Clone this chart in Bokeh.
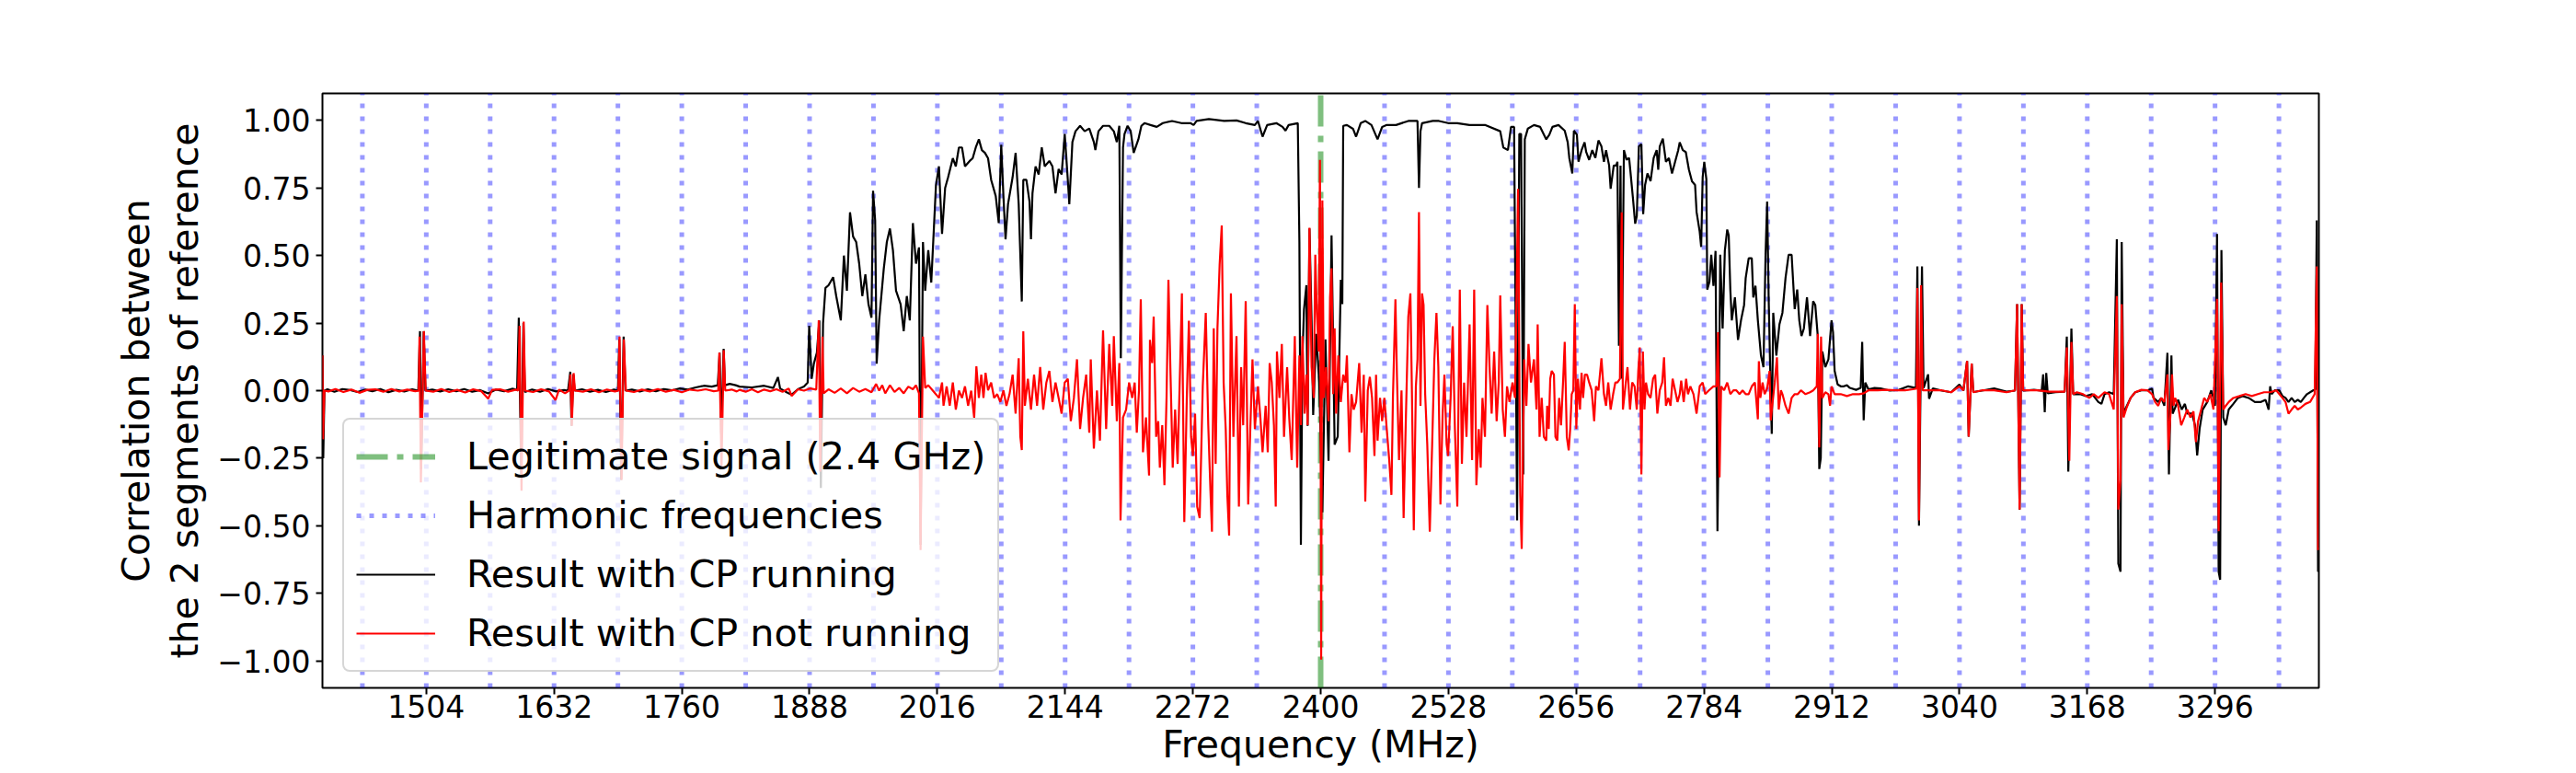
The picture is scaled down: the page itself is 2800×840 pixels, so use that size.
import numpy as np
from bokeh.plotting import figure
from bokeh.models import (Range1d, FixedTicker, CustomJSTickFormatter, Legend, LegendItem)
from bokeh.embed import file_html
from bokeh.resources import INLINE

# ---------------- data ----------------
x_min, x_max = 1400, 3400
y_min, y_max = -1.1, 1.1
x_ticks = [1504, 1632, 1760, 1888, 2016, 2144, 2272, 2400, 2528, 2656, 2784, 2912, 3040, 3168, 3296]
y_ticks = [-1.0, -0.75, -0.5, -0.25, 0.0, 0.25, 0.5, 0.75, 1.0]
x_label = "Frequency (MHz)"
y_label = "Correlation between\nthe 2 segments of reference"

legit_freq = [2400]
harmonic_freqs = [1440, 1504, 1568, 1632, 1696, 1760, 1824, 1888, 1952, 2016, 2080, 2144, 2208,
                  2272, 2336, 2464, 2528, 2592, 2656, 2720, 2784, 2848, 2912, 2976, 3040,
                  3104, 3168, 3232, 3296, 3360]

# Result with CP running (black)
black_f1 = [1400.0, 1400.8, 1402, 1405, 1412, 1420, 1428, 1435, 1443, 1450, 1458, 1466, 1474, 1482, 1490, 1496,
            1497.7, 1498.9, 1501.4, 1503.2, 1510, 1518, 1526, 1534, 1542, 1550, 1558, 1566, 1574, 1582, 1590,
            1595, 1596.7, 1599.1, 1601.3, 1602.8, 1610, 1618, 1626, 1634, 1642, 1646, 1648.3, 1649.5, 1651.4,
            1652.6, 1660, 1668, 1676, 1684, 1692, 1696, 1697.4, 1699.3, 1701.7, 1703.6, 1710, 1718, 1726, 1734,
            1742, 1750, 1758, 1766, 1774, 1782, 1790, 1796, 1797.9, 1799.5, 1801.9, 1803.2, 1808, 1814]
black_c1 = [0.13, -0.25, 0.0, 0.005, -0.004, 0.006, 0.002, -0.005, 0.004, -0.002, 0.006, -0.006, 0.003, -0.003, 0.005, 0.0,
            0.22, -0.29, 0.22, 0.0, 0.004, -0.003, 0.005, -0.002, 0.006, -0.004, 0.002, -0.01, 0.004, -0.002, 0.007,
            0.003, 0.27, -0.31, 0.25, -0.005, 0.004, -0.004, 0.006, -0.003, 0.002, 0.0, 0.07, -0.13, 0.06,
            0.0, 0.005, -0.004, 0.003, -0.005, 0.004, 0.0, 0.19, -0.33, 0.2, 0.0, 0.004, -0.003, 0.005, -0.002,
            0.006, 0.001, 0.008, 0.004, 0.012, 0.018, 0.015, 0.02, 0.14, -0.16, 0.155, 0.02, 0.025, 0.02]

black_f2 = [1817.9, 1830.2, 1842.5, 1851.7, 1856.3, 1858.5, 1864.0, 1870.1, 1876.3, 1882.4, 1886.1, 1887.6, 1890.1,
            1892.3, 1895.3, 1897.8, 1899.3, 1901.5, 1903.9, 1907.0, 1911.6, 1914.7, 1919.3, 1922.4, 1925.4, 1928.5,
            1931.6, 1934.7, 1937.7, 1940.8, 1943.9, 1947.0, 1950.0, 1951.6, 1953.7, 1955.2, 1957.7, 1962.3, 1965.4,
            1968.5, 1971.5, 1974.6, 1979.2, 1982.3, 1985.4, 1988.4, 1991.5, 1994.6, 1997.6, 1999.2, 2001.6, 2003.8,
            2006.9, 2009.9, 2014.6, 2017.6, 2020.7, 2023.8, 2026.8, 2031.5, 2034.5, 2037.6, 2040.7, 2043.7, 2048.4,
            2051.4, 2054.5, 2057.6, 2060.6, 2063.7, 2066.8, 2069.9, 2074.5, 2077.5, 2080.0, 2082.2, 2084.3, 2086.8,
            2091.4, 2094.4, 2097.5, 2100.6, 2102.1, 2105.2, 2108.3, 2109.8, 2111.3, 2114.4, 2117.5, 2120.6, 2123.6,
            2128.2, 2131.3, 2134.4, 2137.5, 2140.5, 2143.6, 2146.7, 2148.2, 2151.3, 2154.4, 2159.0, 2163.6, 2168.2,
            2172.8, 2174.3, 2177.4, 2182.0, 2188.2, 2192.8, 2195.8, 2198.3, 2199.8, 2202.0, 2203.5, 2206.6, 2209.7,
            2212.7, 2217.4, 2220.4]
black_c2 = [0.015, 0.012, 0.018, 0.01, 0.05, 0.008, -0.004, -0.015, 0.005, 0.015, 0.03, 0.24, 0.044,
            0.10, 0.14, 0.26, -0.36, 0.25, 0.38, 0.39, 0.42, 0.35, 0.26, 0.50, 0.37, 0.66,
            0.57, 0.55, 0.47, 0.35, 0.43, 0.32, 0.27, 0.74, 0.63, 0.10, 0.26, 0.45, 0.55,
            0.60, 0.52, 0.37, 0.32, 0.22, 0.35, 0.26, 0.62, 0.47, 0.53, -0.57, 0.55, 0.37,
            0.52, 0.40, 0.76, 0.83, 0.58, 0.75, 0.79, 0.86, 0.83, 0.90, 0.90, 0.83, 0.85,
            0.86, 0.90, 0.93, 0.89, 0.88, 0.86, 0.78, 0.72, 0.62, 0.91, 0.72, 0.56, 0.69,
            0.79, 0.88, 0.69, 0.33, 0.78, 0.78, 0.70, 0.56, 0.73, 0.83, 0.80, 0.90, 0.83,
            0.85, 0.83, 0.73, 0.82, 0.80, 0.95, 0.78, 0.69, 0.92, 0.96, 0.98, 0.96, 0.97,
            0.92, 0.89, 0.96, 0.98, 0.98, 0.96, 0.92, 0.98, 0.12, 0.90, 0.95, 0.98, 0.96,
            0.88, 0.93, 0.98]

black_f3 = [2223.5, 2229.6, 2235.8, 2241.9, 2251.1, 2260.4, 2269.6, 2272.7, 2275.7, 2288.0, 2303.4, 2315.7, 2324.9,
            2334.1, 2337.2, 2341.8, 2346.4, 2355.6, 2361.8, 2364.8, 2367.9, 2377.1, 2378.7, 2380.2, 2381.7, 2383.3,
            2385.7, 2386.9, 2388.8, 2390.9, 2392.5, 2395.6, 2398.6, 2401.7, 2404.8, 2407.9, 2410.9, 2414.0, 2417.1,
            2420.2, 2421.7, 2422.6, 2426.3, 2432.4, 2435.5, 2440.1, 2444.7, 2450.9, 2457.0, 2461.6, 2466.2, 2475.5,
            2487.8, 2497.0, 2498.5, 2500.0, 2501.6, 2512.3, 2518.5, 2527.7, 2536.9, 2549.2, 2564.6, 2579.9, 2583.0,
            2587.6, 2590.7, 2593.8, 2596.8, 2599.0, 2600.8, 2603.0, 2604.5, 2607.6, 2613.7, 2619.9, 2626.0]
black_c3 = [0.99, 0.983, 0.976, 0.99, 0.998, 0.99, 0.99, 0.983, 0.998, 1.005, 0.998, 1.0, 0.99,
            0.983, 0.998, 0.94, 0.983, 0.99, 0.976, 0.962, 0.983, 0.99, 0.55, -0.57, 0.12, 0.30,
            0.39, -0.13, 0.60, 0.26, -0.09, 0.21, 0.03, -0.45, 0.19, -0.26, 0.575, -0.20, -0.17,
            0.41, 0.32, 0.98, 0.983, 0.969, 0.94, 0.99, 0.998, 0.983, 0.93, 0.976, 0.983, 0.983,
            0.998, 0.998, 0.75, 0.96, 0.99, 0.998, 0.998, 0.99, 0.99, 0.983, 0.983, 0.96, 0.90,
            0.89, 0.976, 0.976, -0.48, 0.95, 0.95, -0.31, 0.93, 0.97, 0.983, 0.976, 0.93]

black_f4 = [2629.1, 2632.2, 2638.3, 2644.5, 2647.5, 2649.1, 2652.1, 2653.7, 2656.7, 2658.3, 2661.4, 2664.4, 2666.0,
            2669.0, 2672.1, 2675.2, 2678.3, 2681.3, 2683.8, 2685.9, 2689.0, 2690.5, 2693.6, 2696.1, 2697.3, 2698.8,
            2700.4, 2701.6, 2703.8, 2706.5, 2709.0, 2710.5, 2712.7, 2715.1, 2716.7, 2718.8, 2721.3, 2723.1, 2725.0,
            2727.4, 2730.5, 2733.6, 2736.6, 2738.2, 2739.7, 2742.8, 2745.9, 2748.9, 2752.0, 2755.1, 2758.2, 2759.7,
            2762.8, 2765.8, 2768.9, 2772.0, 2775.1, 2776.6, 2779.7, 2781.2, 2782.7, 2784.3, 2786.4, 2787.3, 2789.5,
            2791.3, 2793.5, 2795.6, 2797.5, 2798.7, 2800.3, 2802.7, 2804.9, 2807.3, 2808.8, 2810.4, 2811.9, 2815.0,
            2818.1, 2821.1, 2824.2, 2825.8, 2828.8, 2831.9, 2833.4, 2835.6, 2838.0, 2841.1, 2843.6, 2845.7, 2847.3,
            2848.8, 2850.3, 2851.9, 2853.4, 2856.5, 2859.6, 2862.6, 2865.7, 2868.8, 2871.8, 2874.9, 2877.4, 2879.5,
            2881.7, 2884.1, 2887.2, 2890.3, 2893.4, 2895.5, 2898.0, 2899.5, 2901.0, 2902.6, 2905.6, 2908.7, 2911.8,
            2913.3, 2914.9, 2917.9, 2921.0, 2924.1, 2927.2, 2930.2, 2936.4, 2941.0, 2942.5, 2944.0, 2945.6, 2948.7,
            2954.8, 2961.0, 2970.2, 2979.4, 2988.6, 2996.3, 2997.8, 2999.4, 3000.9, 3002.4, 3004.0, 3008.6, 3009.5,
            3013.2, 3022.4, 3031.6]
black_c4 = [0.947, 0.976, 0.983, 0.962, 0.919, 0.861, 0.804, 0.962, 0.947, 0.847, 0.89, 0.919, 0.883,
            0.854, 0.89, 0.861, 0.926, 0.904, 0.847, 0.89, 0.833, 0.747, 0.833, 0.833, 0.847, 0.166,
            0.833, 0.044, 0.89, 0.854, 0.861, 0.804, 0.718, 0.618, 0.646, 0.904, 0.912, 0.653, 0.761,
            0.804, 0.775, 0.861, 0.89, 0.818, 0.904, 0.933, 0.847, 0.861, 0.804, 0.847, 0.89, 0.919,
            0.89, 0.883, 0.818, 0.775, 0.761, 0.661, 0.589, 0.532, 0.79, 0.847, 0.782, 0.374, 0.403,
            0.503, 0.388, 0.517, -0.52, -0.17, 0.503, 0.23, 0.517, 0.596, 0.575, 0.374, 0.26, 0.345,
            0.188, 0.26, 0.317, 0.417, 0.49, 0.49, 0.345, 0.388, 0.26, 0.13, 0.087, 0.503, 0.70,
            0.345, 0.087, -0.16, 0.288, 0.13, 0.245, 0.288, 0.417, 0.503, 0.503, 0.302, 0.374, 0.26,
            0.202, 0.23, 0.345, 0.202, 0.331, 0.317, 0.202, -0.29, -0.25, 0.145, 0.087, 0.116, 0.26,
            0.216, 0.073, 0.023, 0.016, 0.016, 0.02, 0.01, 0.003, 0.01, 0.18, -0.11, 0.03, 0.005,
            0.01, 0.008, 0.0, 0.003, 0.016, 0.01, 0.46, -0.50, 0.0, 0.46, 0.01, 0.06, -0.03,
            0.008, 0.0, -0.006]

black_f5 = [3039.9, 3043.9, 3047.6, 3049.2, 3052.2, 3053.8, 3062.4, 3074.7, 3087.0, 3095.6, 3097.7, 3100.2, 3102.3,
            3103.8, 3114.6, 3122.3, 3123.8, 3125.4, 3126.9, 3128.4, 3136.1, 3145.3, 3147.5, 3149.0, 3152.1, 3153.9,
            3160.7, 3166.8, 3173.0, 3179.1, 3182.2, 3185.3, 3189.9, 3194.5, 3197.6, 3199.1, 3201.3, 3202.5, 3204.3,
            3206.8, 3211.4, 3216.0, 3222.2, 3228.3, 3232.9, 3234.4, 3239.1, 3242.1, 3245.2, 3248.3, 3249.8, 3252.3,
            3253.5, 3256.0, 3259.0, 3262.7, 3265.8, 3268.2, 3272.9, 3275.9, 3278.1, 3280.5, 3283.6, 3288.2, 3292.2,
            3294.4, 3295.9, 3298.0, 3299.6, 3301.1, 3302.4, 3304.2, 3306.7, 3309.7, 3314.3, 3318.9, 3323.6, 3329.7,
            3335.9, 3342.0, 3346.6, 3349.7, 3351.2, 3352.7, 3355.8, 3360.4, 3363.5, 3366.6, 3369.6, 3372.7, 3375.8,
            3378.9, 3381.9, 3385.0, 3388.1, 3394.2, 3396.4, 3397.9, 3399.2, 3399.8]
black_c5 = [0.023, 0.0, 0.11, -0.17, 0.10, -0.005, 0.0, 0.008, -0.004, 0.0, 0.32, -0.44, 0.32,
            0.0, 0.003, 0.0, 0.06, -0.08, 0.065, -0.01, -0.006, -0.004, 0.20, -0.30, 0.23, -0.013,
            -0.013, -0.02, -0.013, -0.042, -0.049, -0.013, -0.006, -0.013, 0.56, -0.64, -0.67, 0.55, -0.085,
            -0.063, -0.027, -0.006, 0.001, 0.001, 0.008, -0.027, -0.042, -0.027, -0.056, 0.14, -0.31, 0.13,
            -0.085, -0.063, -0.034, -0.070, -0.049, -0.085, -0.085, -0.128, -0.24, -0.142, -0.070, -0.042, 0.001,
            -0.027, -0.056, 0.58, -0.67, -0.70, 0.52, -0.099, -0.128, -0.070, -0.049, -0.027, -0.020, -0.027,
            -0.042, -0.042, -0.034, -0.070, 0.016, -0.013, 0.001, 0.001, -0.020, -0.027, -0.042, -0.027, -0.042,
            -0.034, -0.042, -0.027, -0.013, 0.001, 0.004, 0.63, -0.67, -0.66]

# Result with CP not running (red)
red_f1 = [1400.0, 1400.6, 1402, 1406, 1413, 1421, 1429, 1437, 1445, 1453, 1461, 1469, 1477, 1485, 1493, 1496.5,
          1497.2, 1498.6, 1501.6, 1503.4, 1511, 1519, 1527, 1535, 1543, 1551, 1559, 1566, 1570, 1578, 1586, 1594,
          1596, 1597.5, 1599.4, 1601.6, 1603, 1611, 1619, 1627, 1633.5, 1637, 1643, 1647, 1648.5, 1649.8, 1651.6,
          1653, 1661, 1669, 1677, 1685, 1693, 1696.5, 1697.6, 1699.6, 1701.9, 1704, 1712, 1720, 1728, 1736, 1744,
          1752, 1760, 1768, 1776, 1784, 1792, 1796.5, 1797.6, 1799.8, 1802, 1803.5, 1810, 1815]
red_c1 = [0.13, -0.18, 0.0, -0.003, 0.006, -0.005, 0.004, -0.008, 0.003, 0.005, -0.004, 0.006, -0.003, 0.004, -0.002, 0.0,
          0.2, -0.34, 0.22, 0.0, -0.004, 0.006, -0.005, 0.003, -0.007, 0.005, -0.002, -0.03, 0.003, 0.005, -0.004, 0.004,
          0.0, 0.24, -0.37, 0.255, 0.0, -0.005, 0.005, -0.003, -0.035, 0.004, -0.01, 0.0, 0.06, -0.13, 0.065,
          0.0, -0.004, 0.005, -0.006, 0.004, -0.003, 0.0, 0.2, -0.33, 0.19, 0.0, -0.005, 0.004, -0.003, 0.006, -0.004,
          0.003, -0.006, 0.004, 0.0, 0.005, -0.002, 0.0, 0.14, -0.28, 0.15, 0.0, 0.004, -0.003]

red_f2 = [1817.9, 1824.0, 1830.2, 1836.3, 1842.5, 1848.6, 1854.8, 1860.9, 1867.1, 1870.1, 1876.3, 1882.4, 1888.6,
          1894.7, 1897.2, 1898.7, 1900.9, 1902.1, 1907.0, 1913.1, 1919.3, 1925.4, 1931.6, 1937.7, 1943.9, 1950.0,
          1954.6, 1957.7, 1960.8, 1963.8, 1968.5, 1973.1, 1977.7, 1982.3, 1986.9, 1991.5, 1994.6, 1997.6, 1999.2,
          2001.6, 2003.8, 2006.9, 2011.5, 2016.1, 2017.6, 2020.7, 2022.2, 2025.3, 2028.4, 2031.5, 2034.5, 2037.6,
          2040.7, 2043.7, 2046.8, 2049.9, 2052.9, 2055.1, 2057.6, 2060.0, 2062.2, 2064.3, 2066.8, 2069.9, 2072.9,
          2076.0, 2079.1, 2082.2, 2085.2, 2088.3, 2091.4, 2094.4, 2097.5, 2099.1, 2100.6, 2102.1, 2103.7, 2106.7,
          2109.8, 2112.9, 2115.9, 2119.0, 2122.1, 2125.2, 2128.2, 2131.3, 2134.4, 2137.5, 2140.5, 2143.6, 2146.7,
          2149.7, 2152.8, 2155.9, 2159.0, 2162.0, 2165.1, 2168.2, 2169.7, 2172.8, 2175.9, 2178.9, 2182.0, 2185.1,
          2188.2, 2191.2, 2192.8, 2195.8, 2198.3, 2199.5, 2202.0, 2205.1, 2208.1]
red_c2 = [0.003, -0.004, 0.005, -0.006, 0.004, -0.002, 0.005, -0.004, 0.008, -0.02, 0.005, 0.0, 0.008,
          0.004, 0.26, -0.30, 0.20, -0.01, 0.005, -0.008, 0.008, -0.01, 0.01, -0.004, 0.006, -0.006,
          0.025, 0.0, 0.02, -0.01, 0.02, -0.005, 0.01, -0.01, 0.015, 0.005, 0.02, -0.01, -0.59,
          0.20, 0.01, 0.02, 0.0, -0.02, -0.027, 0.03, -0.056, 0.016, -0.056, 0.03, -0.07, 0.0,
          -0.027, 0.016, -0.056, 0.0, -0.10, 0.09, -0.027, 0.059, -0.027, 0.066, 0.001, 0.03, -0.027,
          -0.013, -0.042, 0.001, -0.056, -0.013, 0.059, -0.085, 0.12, -0.17, -0.22, 0.22, -0.056, 0.044,
          -0.07, 0.059, -0.056, 0.087, -0.07, 0.03, 0.073, -0.042, 0.03, -0.027, -0.085, 0.03, 0.044,
          -0.113, -0.027, 0.116, -0.142, -0.027, 0.059, -0.156, 0.116, -0.214, 0.001, -0.185, 0.223, -0.142,
          0.173, -0.056, 0.202, -0.113, 0.102, -0.48, -0.099, -0.070, 0.03]

red_f3 = [2211.2, 2213.7, 2215.8, 2218.0, 2219.8, 2222.0, 2225.0, 2228.1, 2229.0, 2231.2, 2232.7, 2235.2, 2237.3,
          2238.9, 2241.3, 2243.5, 2245.6, 2247.5, 2249.6, 2251.8, 2254.2, 2256.7, 2258.8, 2261.0, 2263.4, 2265.9,
          2268.0, 2270.2, 2272.0, 2274.2, 2276.3, 2278.8, 2281.9, 2284.9, 2287.4, 2289.6, 2291.1, 2292.9, 2294.8,
          2296.6, 2298.8, 2300.9, 2302.8, 2304.9, 2306.5, 2308.3, 2310.1, 2312.6, 2315.7, 2318.1, 2320.3, 2322.4,
          2324.9, 2327.4, 2329.5, 2331.7, 2334.1, 2337.2, 2339.6, 2341.8, 2344.9, 2347.0, 2348.9, 2351.0, 2353.2,
          2355.0, 2356.2, 2358.7, 2361.1, 2363.3, 2366.4, 2368.5, 2371.0, 2374.1, 2376.5, 2378.7, 2380.2, 2381.7,
          2383.9, 2385.7, 2386.9, 2388.8, 2390.9, 2393.1, 2394.6, 2396.2, 2398.0, 2399.3, 2400.5, 2401.7, 2403.2,
          2405.4, 2407.9, 2409.4, 2410.9, 2412.5, 2414.0, 2415.5, 2417.7, 2420.2, 2422.6, 2424.8, 2426.3, 2428.8,
          2430.9, 2433.1, 2435.5, 2438.6, 2441.0, 2443.2, 2444.7, 2447.2, 2449.3, 2451.5, 2453.9, 2455.5, 2457.0,
          2459.5, 2461.6, 2463.8, 2466.2, 2468.7, 2470.9, 2472.4, 2474.9, 2476.4, 2478.5, 2481.0, 2483.1, 2485.3,
          2487.8, 2489.9, 2491.4, 2493.3, 2495.4, 2497.0, 2498.5, 2500.0, 2501.6, 2503.1, 2504.7, 2506.8, 2509.3,
          2511.7, 2513.9, 2516.0, 2517.9, 2520.0, 2522.2, 2524.0, 2526.2, 2527.7, 2530.2, 2532.3, 2534.5, 2536.9,
          2539.4, 2541.5, 2543.7, 2546.1, 2549.2, 2551.7, 2553.8, 2556.0, 2558.4, 2560.3, 2562.1, 2564.6, 2567.0,
          2569.2, 2571.3, 2573.8, 2576.3, 2578.4, 2579.9, 2582.4, 2584.6, 2586.7, 2589.2, 2592.2, 2594.7, 2597.8,
          2599.9, 2601.4, 2603.9, 2606.1, 2608.2, 2610.7, 2613.7, 2616.2, 2617.4, 2619.3, 2621.4, 2623.6, 2626.0]
red_c3 = [-0.027, 0.03, -0.156, 0.001, 0.338, -0.228, -0.099, -0.314, 0.188, 0.102, 0.274, -0.171, -0.113,
          -0.285, -0.128, -0.350, -0.027, 0.410, 0.059, -0.285, -0.070, -0.271, 0.030, 0.360, -0.486, -0.027,
          0.259, -0.171, -0.242, -0.085, -0.429, -0.472, 0.016, 0.288, -0.128, -0.371, -0.522, 0.231, -0.271,
          0.231, 0.467, 0.611, 0.030, -0.142, -0.386, -0.536, 0.360, -0.171, 0.202, -0.429, 0.087, -0.128,
          0.331, -0.421, -0.142, 0.116, -0.142, 0.016, -0.099, -0.228, -0.056, -0.228, 0.102, 0.030, -0.128,
          -0.429, 0.145, -0.027, 0.173, -0.171, 0.087, -0.099, -0.257, 0.202, -0.285, 0.130, -0.128, 0.202,
          -0.085, 0.059, -0.128, 0.603, 0.087, -0.027, 0.503, 0.288, 0.145, 0.854, -0.995, 0.704, -0.027,
          0.087, -0.113, 0.345, 0.453, -0.013, 0.231, -0.085, 0.130, -0.042, 0.059, 0.030, 0.130, -0.228,
          -0.013, -0.070, -0.042, 0.102, -0.156, 0.059, -0.41, 0.001, 0.051, -0.027, -0.242, 0.059, -0.185,
          -0.027, -0.113, -0.027, -0.142, -0.257, -0.386, -0.027, 0.338, 0.059, -0.257, 0.001, -0.472, -0.113,
          0.274, 0.360, 0.001, -0.517, 0.016, 0.116, 0.661, -0.056, 0.360, 0.317, -0.013, -0.199, -0.522,
          -0.199, 0.116, 0.288, 0.087, -0.421, -0.085, 0.059, -0.199, -0.242, -0.027, 0.238, -0.142, -0.429,
          0.374, -0.271, 0.030, -0.171, 0.245, -0.257, 0.374, -0.350, -0.142, -0.285, -0.027, -0.171, 0.317,
          0.087, -0.085, 0.145, -0.113, 0.030, 0.352, -0.070, -0.171, 0.016, -0.042, 0.030, -0.027, 0.747,
          -0.386, -0.586, 0.116, -0.056, 0.173, 0.030, 0.116, -0.070, 0.245, -0.171, -0.027, -0.171, -0.185]

red_f4 = [2626.9, 2628.5, 2630.0, 2631.5, 2633.7, 2635.2, 2637.1, 2638.9, 2640.8, 2642.9, 2644.5, 2646.6, 2648.5,
          2650.0, 2651.5, 2653.1, 2654.6, 2656.1, 2657.7, 2659.8, 2661.4, 2662.9, 2664.7, 2666.9, 2669.0, 2671.5,
          2674.0, 2675.8, 2678.3, 2681.3, 2683.8, 2685.9, 2688.1, 2690.5, 2693.0, 2695.2, 2697.3, 2699.8, 2701.6,
          2702.8, 2705.3, 2707.4, 2709.9, 2712.1, 2714.5, 2716.7, 2718.2, 2719.7, 2721.3, 2722.8, 2724.4, 2725.9,
          2728.0, 2730.5, 2733.0, 2735.1, 2737.3, 2739.7, 2742.2, 2744.0, 2745.9, 2748.3, 2750.5, 2752.6, 2755.1,
          2757.5, 2759.7, 2761.2, 2763.7, 2766.1, 2768.0, 2770.4, 2773.5, 2776.6, 2779.7, 2782.7, 2785.2, 2788.9,
          2793.5, 2796.6, 2798.1, 2799.6, 2801.2, 2804.2, 2807.3, 2810.4, 2813.5, 2816.5, 2819.6, 2822.7, 2825.8,
          2828.8, 2831.9, 2835.0, 2838.0, 2839.0, 2840.5, 2842.7, 2844.8, 2847.3, 2849.7, 2850.9, 2852.8, 2854.9,
          2857.1, 2858.9, 2861.1, 2862.6, 2865.7, 2868.8, 2871.8, 2874.9, 2878.0, 2881.1, 2885.7, 2890.3, 2893.4,
          2897.0, 2898.0, 2899.5, 2901.3, 2902.6, 2905.6, 2908.7, 2910.3, 2911.8, 2914.9, 2921.0, 2927.2, 2933.3,
          2939.5, 2944.1, 2948.7, 2957.9, 2967.1, 2976.3, 2985.5, 2993.2, 2997.2, 2997.8, 2999.4, 3001.5, 3003.1,
          3013.2, 3022.4, 3031.6]
red_c4 = [-0.056, -0.142, 0.044, 0.073, 0.059, -0.171, -0.185, -0.027, -0.128, 0.037, 0.180, -0.171, -0.221,
          -0.142, -0.013, 0.001, 0.32, -0.142, 0.044, -0.070, 0.066, -0.027, 0.059, 0.059, 0.030, 0.001,
          -0.113, 0.016, 0.001, 0.12, -0.013, -0.056, 0.030, -0.070, -0.013, 0.030, 0.030, 0.044, 0.66,
          -0.070, 0.016, 0.087, -0.070, 0.030, 0.016, -0.070, 0.073, 0.16, -0.31, 0.145, -0.070, 0.030,
          -0.013, -0.027, 0.044, 0.059, -0.085, 0.001, 0.030, 0.123, -0.056, -0.027, -0.056, 0.044, 0.001,
          -0.042, -0.013, 0.037, -0.042, 0.044, -0.013, 0.016, -0.013, -0.085, 0.016, 0.030, -0.013, 0.001,
          0.016, 0.016, 0.216, -0.321, 0.016, 0.001, 0.030, -0.013, 0.001, 0.001, -0.013, 0.001, -0.013,
          -0.013, 0.016, 0.030, -0.106, 0.109, -0.027, 0.030, -0.013, 0.008, 0.073, -0.11, -0.042, 0.030,
          0.123, -0.070, 0.001, -0.013, -0.056, -0.085, -0.027, -0.013, -0.013, 0.001, -0.013, -0.006, 0.001,
          0.016, 0.21, -0.21, 0.20, -0.027, -0.006, -0.013, -0.056, 0.016, -0.013, -0.013, -0.020, -0.013,
          -0.013, -0.010, 0.001, 0.001, 0.003, 0.001, 0.001, 0.005, 0.008, 0.38, -0.48, 0.39, 0.001,
          0.001, 0.001, -0.006]

red_f5 = [3039.9, 3043.9, 3047.6, 3049.2, 3052.2, 3053.8, 3062.4, 3074.7, 3087.0, 3095.6, 3097.7, 3100.2, 3102.3,
          3103.8, 3117.7, 3130.0, 3145.3, 3147.5, 3150.0, 3152.1, 3153.9, 3157.6, 3163.8, 3169.9, 3174.5, 3179.1,
          3185.3, 3189.9, 3194.5, 3197.6, 3199.1, 3201.3, 3202.5, 3204.3, 3207.4, 3211.4, 3216.0, 3222.2, 3228.3,
          3232.9, 3236.0, 3239.1, 3242.1, 3245.2, 3248.3, 3249.2, 3251.4, 3252.9, 3254.4, 3256.0, 3259.0, 3262.1,
          3265.2, 3268.2, 3271.3, 3274.4, 3276.8, 3279.0, 3282.1, 3285.1, 3288.2, 3291.3, 3294.4, 3298.0, 3299.6,
          3302.1, 3304.2, 3306.7, 3309.7, 3314.3, 3320.5, 3326.6, 3332.8, 3338.9, 3345.1, 3351.2, 3357.4, 3363.5,
          3366.6, 3369.6, 3372.7, 3375.8, 3378.9, 3381.9, 3386.5, 3391.2, 3395.8, 3397.9, 3399.2, 3399.8]
red_c5 = [0.016, 0.001, 0.11, -0.17, 0.10, -0.006, 0.001, 0.001, -0.006, 0.001, 0.32, -0.44, 0.32,
          0.001, 0.001, -0.004, -0.004, 0.16, -0.26, 0.18, -0.013, -0.006, -0.013, -0.027, -0.013, -0.027,
          -0.006, -0.013, -0.070, 0.35, -0.44, -0.33, 0.32, -0.099, -0.063, -0.027, -0.006, 0.003, 0.001,
          -0.013, -0.042, -0.056, -0.027, -0.042, 0.06, -0.22, -0.085, 0.06, -0.056, -0.027, -0.056, -0.128,
          -0.099, -0.070, -0.099, -0.077, -0.19, -0.113, -0.070, -0.027, -0.042, -0.013, -0.070, 0.34, -0.52,
          0.40, -0.070, -0.056, -0.042, -0.027, -0.020, -0.013, -0.020, -0.013, -0.006, -0.006, 0.001, -0.027,
          -0.042, -0.085, -0.070, -0.056, -0.070, -0.063, -0.049, -0.042, -0.013, 0.46, -0.59, -0.58]

black_freq = black_f1 + black_f2 + black_f3 + black_f4 + black_f5
black_corr = black_c1 + black_c2 + black_c3 + black_c4 + black_c5
red_freq = red_f1 + red_f2 + red_f3 + red_f4 + red_f5
red_corr = red_c1 + red_c2 + red_c3 + red_c4 + red_c5

# ---------------- figure ----------------
FONT = "DejaVu Sans"
p = figure(width=2800, height=840, output_backend="svg", toolbar_location=None,
           x_range=Range1d(x_min, x_max), y_range=Range1d(y_min, y_max),
           min_border_left=350, min_border_right=280, min_border_top=101, min_border_bottom=93)
p.background_fill_color = "white"
p.border_fill_color = "white"
p.outline_line_color = "black"
p.outline_line_width = 2
p.xgrid.visible = False
p.ygrid.visible = False

r_legit = p.segment(x0=legit_freq, x1=legit_freq, y0=[y_min], y1=[y_max],
                    line_color="green", line_alpha=0.5, line_width=6, line_dash="34 10 7 10")
r_harm = p.segment(x0=harmonic_freqs, x1=harmonic_freqs,
                   y0=[y_min] * len(harmonic_freqs), y1=[y_max] * len(harmonic_freqs),
                   line_color="blue", line_alpha=0.4, line_width=5, line_dash="5 9")
r_black = p.line(black_freq, black_corr, line_color="black", line_width=2.2)
r_red = p.line(red_freq, red_corr, line_color="red", line_width=2.2)

# axes
p.xaxis.ticker = FixedTicker(ticks=x_ticks)
p.yaxis.ticker = FixedTicker(ticks=y_ticks)
p.yaxis.formatter = CustomJSTickFormatter(code="return (tick < 0 ? '\u2212' : '') + Math.abs(tick).toFixed(2);")
for ax in (p.xaxis[0], p.yaxis[0]):
    ax.axis_line_color = None
    ax.major_tick_line_color = "black"
    ax.major_tick_line_width = 2
    ax.major_tick_out = 7
    ax.major_tick_in = 0
    ax.minor_tick_line_color = None
    ax.major_label_text_font = FONT
    ax.major_label_text_font_size = "33px"
    ax.major_label_text_color = "black"
    ax.axis_label_text_font = FONT
    ax.axis_label_text_font_size = "41px"
    ax.axis_label_text_font_style = "normal"
    ax.axis_label_text_color = "black"

p.xaxis.axis_label = x_label
p.xaxis.major_label_standoff = 0
p.xaxis.axis_label_standoff = 2
p.yaxis.axis_label = y_label
p.yaxis.axis_label_text_line_height = 1.12
p.yaxis.major_label_standoff = 6
p.yaxis.axis_label_standoff = 8

legend = Legend(items=[
    LegendItem(label="Legitimate signal (2.4 GHz)", renderers=[r_legit]),
    LegendItem(label="Harmonic frequencies", renderers=[r_harm]),
    LegendItem(label="Result with CP running", renderers=[r_black]),
    LegendItem(label="Result with CP not running", renderers=[r_red]),
], location=(22, 17))
legend.label_text_font = FONT
legend.label_text_font_size = "41.3px"
legend.label_text_color = "black"
legend.glyph_width = 86
legend.glyph_height = 54
legend.label_height = 54
legend.label_standoff = 34
legend.spacing = 10
legend.padding = 13
legend.margin = 0
legend.background_fill_color = "white"
legend.background_fill_alpha = 0.8
legend.border_line_color = "#cccccc"
legend.border_line_alpha = 0.8
legend.border_line_width = 2
legend.border_radius = 8
p.add_layout(legend, "center")

open("out.html", "w").write(file_html(p, INLINE))
